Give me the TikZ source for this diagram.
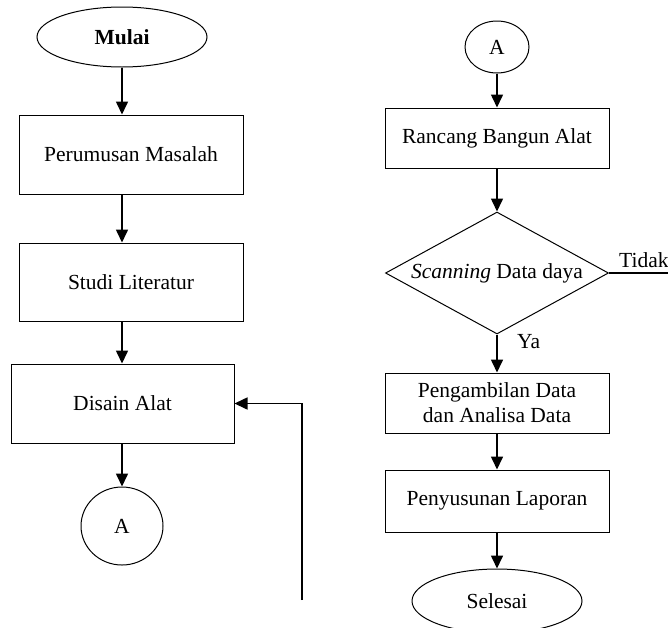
\documentclass[tikz,border=0pt]{standalone}
\usepackage{fontspec}
\setmainfont{Liberation Serif}
\usetikzlibrary{shapes.geometric,arrows.meta}
\begin{document}
\begin{tikzpicture}[x=1pt,y=-1pt,
  every node/.style={font=\fontsize{21.5}{25}\selectfont},
  procbox/.style={draw,line width=1pt,inner sep=0pt,align=center},
  termin/.style={draw,ellipse,line width=1pt,inner sep=0pt},
  conn/.style={draw,ellipse,line width=1pt,inner sep=0pt},
  decis/.style={draw,diamond,aspect=1.83,line width=1pt,inner sep=0pt},
  flow/.style={line width=1.6pt,-{Triangle[length=13pt,width=12pt]}},
  plainline/.style={line width=1.6pt}]
\useasboundingbox (0,0) rectangle (668,627);
\clip (0,0) rectangle (668,627);
\fill[white] (0,0) rectangle (668,627);

% left column
\node[termin,minimum width=170pt,minimum height=60pt] (mulai) at (122,37) {\textbf{Mulai}};
\node[procbox,minimum width=224pt,minimum height=79pt] (rumus) at (131,154.5) {Perumusan Masalah};
\node[procbox,minimum width=224pt,minimum height=78pt] (studi) at (131,282) {Studi Literatur};
\node[procbox,minimum width=223pt,minimum height=79pt] (disain) at (122.5,403.5) {Disain Alat};
\node[conn,minimum width=82pt,minimum height=78pt] (aL) at (122,526) {A};
\coordinate (fb) at (302,600);

\draw[flow] (mulai) -- (mulai |- rumus.north);
\draw[flow] (rumus.south -| mulai) -- (studi.north -| mulai);
\draw[flow] (studi.south -| mulai) -- (disain.north -| mulai);
\draw[flow] (disain.south -| aL) -- (aL);
\draw[flow] (fb) |- (disain.east);

% right column
\node[conn,minimum width=64pt,minimum height=52pt] (aR) at (497,47) {A};
\node[procbox,minimum width=224pt,minimum height=60pt] (rancang) at (497,138) {Rancang Bangun Alat};
\node[decis,minimum width=223pt,minimum height=122pt] (scan) at (497,273) {\textit{Scanning} Data daya};
\node[procbox,minimum width=224pt,minimum height=60pt] (ambil) at (497,403) {Pengambilan Data\\dan Analisa Data};
\node[procbox,minimum width=224pt,minimum height=62pt] (susun) at (497,501) {Penyusunan Laporan};
\node[termin,minimum width=170pt,minimum height=64pt] (selesai) at (497,601) {Selesai};
\coordinate (tidakend) at (668,273);
\node[anchor=base west,inner sep=0pt] (tidak) at (619,267) {Tidak};
\node[anchor=base west,inner sep=0pt] (ya) at (517,348) {Ya};

\draw[flow] (aR) -- (rancang);
\draw[flow] (rancang) -- (scan);
\draw[plainline] (scan.east) -- (tidakend);
\draw[flow] (scan) -- (ambil);
\draw[flow] (ambil) -- (susun);
\draw[flow] (susun) -- (selesai);
\end{tikzpicture}
\end{document}
